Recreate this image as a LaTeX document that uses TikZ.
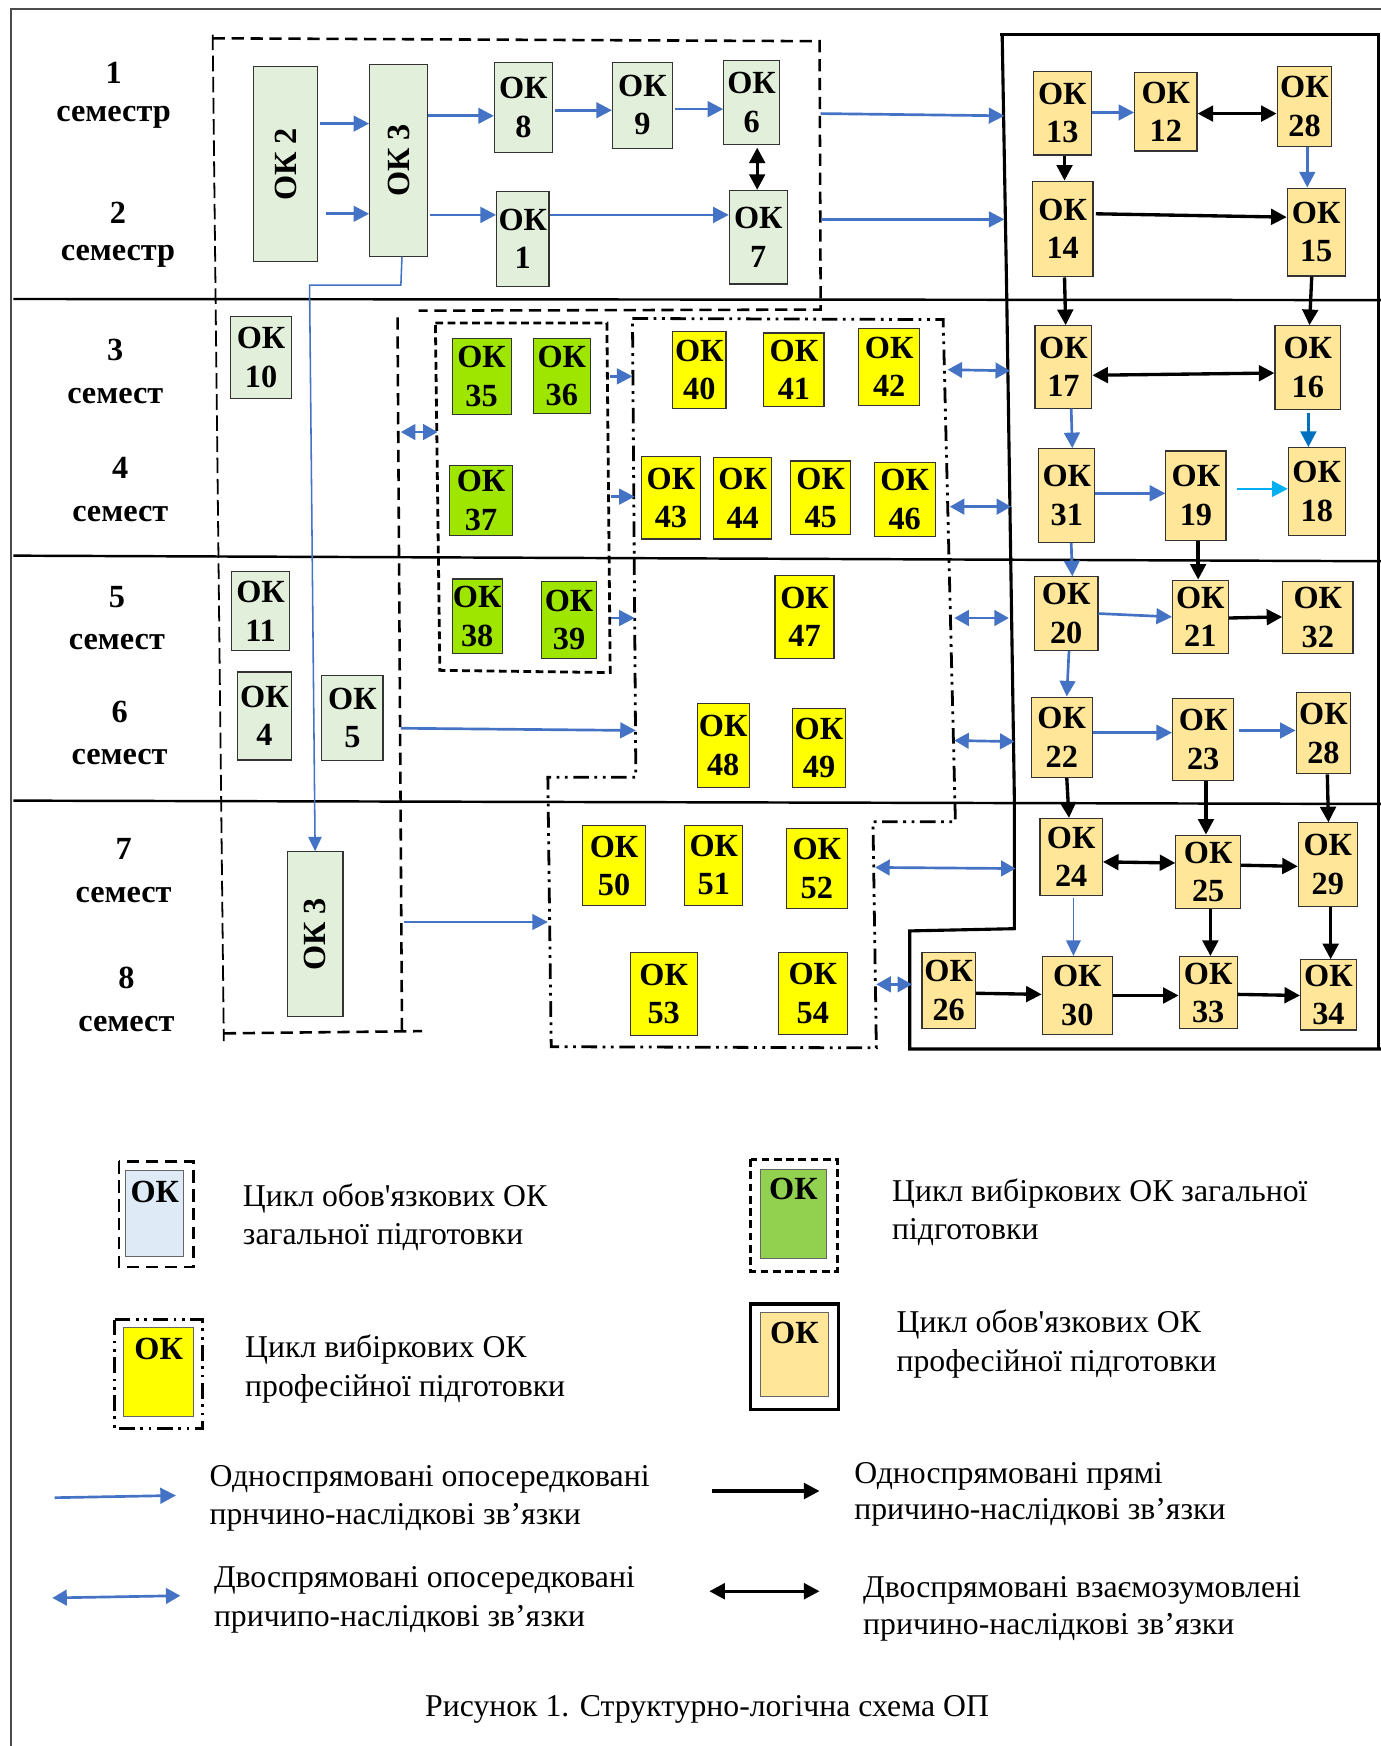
\documentclass[tikz,border=0pt]{standalone}
\usepackage{graphicx}
\usepackage{fontspec}
\setmainfont{Liberation Serif}[Ligatures=TeXOff]
\usetikzlibrary{arrows.meta,calc}
\definecolor{lgr}{HTML}{E2EFDA}
\definecolor{vgr}{HTML}{9EE600}
\definecolor{ylw}{HTML}{FFFF00}
\definecolor{org}{HTML}{FFE699}
\definecolor{ablue}{HTML}{4472C4}
\definecolor{dblue}{HTML}{0070C0}
\definecolor{cyanb}{HTML}{00B0F0}
\definecolor{lblue}{HTML}{DEEBF7}
\definecolor{lgreen}{HTML}{92D050}
\tikzset{
  okbase/.style={draw=black!80, line width=1pt, inner sep=0pt, align=center,
    font=\fontsize{29}{34.5}\selectfont\bfseries},
  okg/.style={okbase, fill=lgr},
  okv/.style={okbase, fill=vgr},
  oky/.style={okbase, fill=ylw},
  oko/.style={okbase, fill=org},
  oklab/.style={inner sep=0pt, font=\fontsize{29}{34}\selectfont\bfseries},
  semlab/.style={inner sep=0pt, anchor=base, font=\fontsize{29}{34}\selectfont\bfseries},
  legtxt/.style={inner sep=0pt, anchor=base west, font=\fontsize{28.5}{34}\selectfont},
  sepline/.style={line width=2.2pt, black},
  gdash/.style={line width=2.3pt, dash pattern=on 11pt off 6pt},
  gdashl/.style={line width=1.6pt, dash pattern=on 14pt off 5pt},
  vdash/.style={line width=2.5pt, dash pattern=on 7pt off 4pt},
  ydash/.style={line width=2.5pt, dash pattern=on 14pt off 5pt on 2.5pt off 5pt on 2.5pt off 5pt},
  pframe/.style={line width=2.8pt, black},
  barr/.style={draw=ablue, line width=2.4pt, -{Triangle[length=14pt,width=14pt]}},
  bdarr/.style={draw=ablue, line width=2.4pt, {Triangle[length=13pt,width=14pt]}-{Triangle[length=13pt,width=14pt]}},
  karr/.style={draw=black, line width=3pt, -{Triangle[length=14pt,width=14pt]}},
  kdarr/.style={draw=black, line width=3pt, {Triangle[length=14pt,width=14pt]}-{Triangle[length=14pt,width=14pt]}},
}
\begin{document}
\begin{tikzpicture}[x=1pt,y=-1pt]
\useasboundingbox (0,0) rectangle (1240,1568);
% page frame
\draw[gray!60!black, line width=2pt] (10,1568) -- (10,8) -- (1240,8);
% semester separators
\draw[sepline] (12,268.5) -- (1240,269.5);
\draw[sepline] (12,499) -- (1240,504);
\draw[sepline] (12,719) -- (1240,722);

% semester labels
\node[semlab] (s1a) at (102,75) {1};
\node[semlab] (s1b) at (102,109) {семестр};
\node[semlab] (s2a) at (106,200.5) {2};
\node[semlab] (s2b) at (106,233.6) {семестр};
\node[semlab] (s3a) at (103.5,323.3) {3};
\node[semlab] (s3b) at (103.5,362) {семест};
\node[semlab] (s4a) at (108,430) {4};
\node[semlab] (s4b) at (108,468.4) {семест};
\node[semlab] (s5a) at (105,546) {5};
\node[semlab] (s5b) at (105,583.6) {семест};
\node[semlab] (s6a) at (107.4,649) {6};
\node[semlab] (s6b) at (107.4,687) {семест};
\node[semlab] (s7a) at (111,771.5) {7};
\node[semlab] (s7b) at (111,810.5) {семест};
\node[semlab] (s8a) at (113.5,888) {8};
\node[semlab] (s8b) at (113.5,926.4) {семест};

% general compulsory dashed frame
\draw[gdashl] (191,31) -- (201,935);
\draw[gdash] (191,34.4) -- (736,37) -- (737,278) -- (376,279);
\draw[gdash] (357,285) -- (361,927);
\draw[gdash] (201,928) -- (379,926);
% general elective frame
\draw[vdash] (391,290) -- (545,290) -- (548,604) -- (395,602) -- cycle;
% professional elective frame
\draw[ydash] (568,286) -- (847,287) -- (858,738) -- (784,738) -- (787,941) -- (495,940) -- (492,698) -- (571,698) -- cycle;
% professional compulsory frame
\draw[pframe] (898,31) -- (1238,31) -- (1238,942);
\draw[pframe] (900,31) -- (904,260) -- (911,721) -- (911,834) -- (817,836) -- (817,942) -- (1240,942);

% light green boxes
\node[okg, minimum width=57pt, minimum height=175pt] (ok2) at (256.5,147.5) {\rotatebox{90}{ОК 2}};
\node[okg, minimum width=52pt, minimum height=172pt] (ok3) at (358,144) {\rotatebox{90}{ОК 3}};
\node[okg, minimum width=52pt, minimum height=81pt] (ok8) at (470,96.5) {ОК\\8};
\node[okg, minimum width=54pt, minimum height=77pt] (ok9) at (577,94.5) {ОК\\9};
\node[okg, minimum width=50pt, minimum height=76pt] (ok6) at (675,92) {ОК\\6};
\node[okg, minimum width=47pt, minimum height=85pt] (ok1) at (469.5,214.5) {ОК\\1};
\node[okg, minimum width=52pt, minimum height=84pt] (ok7) at (681,213) {ОК\\7};
\node[okg, minimum width=55pt, minimum height=73pt] (ok10) at (234.5,321) {ОК\\10};
\node[okg, minimum width=52pt, minimum height=71pt] (ok11) at (234,549) {ОК\\11};
\node[okg, minimum width=49pt, minimum height=79pt] (ok4) at (237.5,643) {ОК\\4};
\node[okg, minimum width=55pt, minimum height=76pt] (ok5) at (316.5,645) {ОК\\5};
\node[okg, minimum width=50pt, minimum height=148pt] (ok3b) at (283,839) {\rotatebox{90}{ОК 3}};

% bright green boxes
\node[okv, minimum width=53pt, minimum height=68pt] (ok35) at (432.5,338) {ОК\\35};
\node[okv, minimum width=51pt, minimum height=67pt] (ok36) at (504.5,337.5) {ОК\\36};
\node[okv, minimum width=56pt, minimum height=63pt] (ok37) at (432,449.5) {ОК\\37};
\node[okv, minimum width=45pt, minimum height=67pt] (ok38) at (428.5,553.5) {ОК\\38};
\node[okv, minimum width=50pt, minimum height=69pt] (ok39) at (511,556.5) {ОК\\39};

% yellow boxes
\node[oky, minimum width=48pt, minimum height=69pt] (ok40) at (628,332.5) {ОК\\40};
\node[oky, minimum width=54pt, minimum height=66pt] (ok41) at (713,332) {ОК\\41};
\node[oky, minimum width=55pt, minimum height=69pt] (ok42) at (798.5,329.5) {ОК\\42};
\node[oky, minimum width=53pt, minimum height=74pt] (ok43) at (602.5,447) {ОК\\43};
\node[oky, minimum width=52pt, minimum height=73pt] (ok44) at (667,447.5) {ОК\\44};
\node[oky, minimum width=54pt, minimum height=66pt] (ok45) at (737,447) {ОК\\45};
\node[oky, minimum width=55pt, minimum height=67pt] (ok46) at (812.5,448.5) {ОК\\46};
\node[oky, minimum width=53pt, minimum height=74pt] (ok47) at (722.5,554) {ОК\\47};
\node[oky, minimum width=47pt, minimum height=75pt] (ok48) at (649.5,669.5) {ОК\\48};
\node[oky, minimum width=47pt, minimum height=71pt] (ok49) at (735.5,671.5) {ОК\\49};
\node[oky, minimum width=57pt, minimum height=72pt] (ok50) at (551.5,777.5) {ОК\\50};
\node[oky, minimum width=52pt, minimum height=72pt] (ok51) at (641,777) {ОК\\51};
\node[oky, minimum width=55pt, minimum height=72pt] (ok52) at (733.5,780) {ОК\\52};
\node[oky, minimum width=60pt, minimum height=75pt] (ok53) at (596,892.5) {ОК\\53};
\node[oky, minimum width=62pt, minimum height=74pt] (ok54) at (730,892) {ОК\\54};

% orange boxes
\node[oko, minimum width=52pt, minimum height=75pt] (ok13) at (954,101.7) {ОК\\13};
\node[oko, minimum width=56pt, minimum height=70.6pt] (ok12) at (1047,100.3) {ОК\\12};
\node[oko, minimum width=49pt, minimum height=72pt] (ok28a) at (1171.5,95.8) {ОК\\28};
\node[oko, minimum width=54.5pt, minimum height=86pt] (ok14) at (954.3,205.7) {ОК\\14};
\node[oko, minimum width=52pt, minimum height=79pt] (ok15) at (1182,208.4) {ОК\\15};
\node[oko, minimum width=51pt, minimum height=74pt] (ok17) at (955,329.5) {ОК\\17};
\node[oko, minimum width=59pt, minimum height=75pt] (ok16) at (1174.5,330) {ОК\\16};
\node[oko, minimum width=50pt, minimum height=84pt] (ok31) at (958,445) {ОК\\31};
\node[oko, minimum width=54pt, minimum height=80pt] (ok19) at (1074,445) {ОК\\19};
\node[oko, minimum width=51pt, minimum height=79pt] (ok18) at (1182.5,441.5) {ОК\\18};
\node[oko, minimum width=57pt, minimum height=66pt] (ok20) at (957.5,551) {ОК\\20};
\node[oko, minimum width=50pt, minimum height=66pt] (ok21) at (1078,554) {ОК\\21};
\node[oko, minimum width=63pt, minimum height=65pt] (ok32) at (1183.5,554.5) {ОК\\32};
\node[oko, minimum width=55pt, minimum height=72pt] (ok22) at (953.5,662) {ОК\\22};
\node[oko, minimum width=55pt, minimum height=74pt] (ok23) at (1080.5,664) {ОК\\23};
\node[oko, minimum width=49pt, minimum height=73pt] (ok28b) at (1188.5,658.5) {ОК\\28};
\node[oko, minimum width=56pt, minimum height=69pt] (ok24) at (962,769.5) {ОК\\24};
\node[oko, minimum width=58pt, minimum height=66pt] (ok25) at (1085,783) {ОК\\25};
\node[oko, minimum width=53pt, minimum height=75pt] (ok29) at (1192.5,776.5) {ОК\\29};
\node[oko, minimum width=48pt, minimum height=69pt] (ok26) at (852,889.5) {ОК\\26};
\node[oko, minimum width=63pt, minimum height=70pt] (ok30) at (967.5,894) {ОК\\30};
\node[oko, minimum width=52pt, minimum height=65pt] (ok33) at (1085,891.5) {ОК\\33};
\node[oko, minimum width=50pt, minimum height=63pt] (ok34) at (1193,893.5) {ОК\\34};

% frame reference points
\coordinate (gR1) at (737,102);
\coordinate (pL1) at (902,104);
\coordinate (gR2) at (737,197);
\coordinate (pL2) at (902,197);
\coordinate (gIn) at (360,388);
\coordinate (vL) at (393,388);
\coordinate (vR1) at (548,338);
\coordinate (yL1) at (568,338);
\coordinate (vR2) at (549,446);
\coordinate (yL2) at (570,446);
\coordinate (vR3) at (549,555);
\coordinate (yL3) at (570,555);
\coordinate (gIn2) at (360,654);
\coordinate (yL4) at (571,656);
\coordinate (gIn3) at (363,828);
\coordinate (yL5) at (492,828);
\coordinate (yR1) at (851,332);
\coordinate (pL3) at (907,333);
\coordinate (yR2) at (853,455);
\coordinate (pL4) at (908,455);
\coordinate (yR3) at (857,555);
\coordinate (pL5) at (906,555);
\coordinate (yR4) at (857,665);
\coordinate (pL6) at (911,666);
\coordinate (yR5) at (786,779);
\coordinate (pL7) at (912,780);
\coordinate (yR6) at (787,884);
\coordinate (pL8) at (819,884);
\coordinate (cyS) at (1111,439);

% arrows, first year
\draw[barr] ($(ok2.east |- 0,111)+(2,0)$) -- (ok3.west |- 0,111);
\draw[barr] ($(ok2.east |- 0,192)+(7,0)$) -- (ok3.west |- 0,192);
\draw[barr] (ok3.east |- 0,104) -- (ok8.west |- 0,104);
\draw[barr] ($(ok8.east |- 0,99)+(2,0)$) -- (ok9.west |- 0,99);
\draw[barr] ($(ok9.east |- 0,98)+(2,0)$) -- (ok6.west |- 0,98);
\draw[barr] ($(ok3.east |- 0,193)+(2,0)$) -- (ok1.west |- 0,193);
\draw[barr] (ok1.east |- 0,193) -- (ok7.west |- 0,193);
\draw[kdarr] ($(ok7.north |- ok6.south)+(-1,2)$) -- ($(ok7.north)+(-1,0)$);
\draw[barr] (gR1) -- (pL1);
\draw[barr] (gR2) -- (pL2);
\draw[ablue, line width=1.4pt, -{Triangle[length=13pt,width=12pt]}] ($(ok3.south)+(3,0)$) -- (360,256) -- (278,256) -- (ok3b.north);

% arrows, general to elective
\draw[bdarr] (gIn) -- (vL);
\draw[barr] (vR1) -- (yL1);
\draw[barr] (vR2) -- (yL2);
\draw[barr] (vR3) -- (yL3);
\draw[barr] (gIn2) -- (yL4);
\draw[barr] (gIn3) -- (yL5);
\draw[bdarr] (yR1) -- (pL3);
\draw[bdarr] (yR2) -- (pL4);
\draw[bdarr] (yR3) -- (pL5);
\draw[bdarr] (yR4) -- (pL6);
\draw[bdarr] (yR5) -- (pL7);
\draw[bdarr] (yR6) -- (pL8);

% arrows inside professional frame
\draw[karr] (ok13.south -| 956,0) -- (ok14.north -| 956,0);
\draw[barr] (ok13.east |- 0,101) -- (ok12.west |- 0,101);
\draw[kdarr] (ok12.east |- 0,102) -- (ok28a.west |- 0,102);
\draw[barr] (ok28a.south -| 1174,0) -- (ok15.north -| 1174,0);
\draw[karr] ($(ok14.east |- 0,192)+(2,0)$) -- (ok15.west |- 0,195);
\draw[karr] (ok14.south -| 956,0) -- (ok17.north -| 957,0);
\draw[karr] (ok15.south -| 1178,0) -- (ok16.north -| 1176,0);
\draw[kdarr] (ok17.east |- 0,337) -- (ok16.west |- 0,335);
\draw[barr] (ok17.south -| 962,0) -- (ok31.north -| 963,0);
\draw[draw=dblue, line width=2.4pt, -{Triangle[length=14pt,width=14pt]}] ($(ok16.south -| 1175,0)+(0,3)$) -- (ok18.north -| 1175,0);
\draw[draw=cyanb, line width=2.4pt, -{Triangle[length=14pt,width=14pt]}] (cyS) -- (ok18.west |- 0,439);
\draw[barr] (ok31.east |- 0,443) -- (ok19.west |- 0,443);
\draw[barr] (ok31.south -| 962,0) -- (ok20.north -| 963,0);
\draw[karr] (ok19.south -| 1076,0) -- (ok21.north -| 1076,0);
\draw[barr] (ok20.east |- 0,551) -- (ok21.west |- 0,554);
\draw[karr] (ok21.east |- 0,555) -- (ok32.west |- 0,554);
\draw[barr] (ok20.south -| 960,0) -- (ok22.north -| 958,0);
\draw[barr] (ok22.east |- 0,658) -- (ok23.west |- 0,658);
\draw[barr] ($(ok23.east |- 0,656)+(4,0)$) -- (ok28b.west |- 0,656);
\draw[karr] (ok22.south -| 958,0) -- (ok24.north -| 960,0);
\draw[karr] (ok23.south -| 1083,0) -- (ok25.north -| 1083,0);
\draw[karr] (ok28b.south -| 1192,0) -- (ok29.north -| 1193,0);
\draw[kdarr] (ok24.east |- 0,774) -- (ok25.west |- 0,775);
\draw[karr] (ok25.east |- 0,777) -- (ok29.west |- 0,778);
\draw[ablue, line width=1.6pt, -{Triangle[length=14pt,width=13pt]}] ($(ok24.south -| 964,0)+(0,2)$) -- (ok30.north -| 964,0);
\draw[karr] (ok25.south -| 1087,0) -- (ok33.north -| 1087,0);
\draw[karr] (ok29.south -| 1195,0) -- (ok34.north -| 1195,0);
\draw[karr] (ok26.east |- 0,892) -- (ok30.west |- 0,893);
\draw[karr] (ok30.east |- 0,894) -- (ok33.west |- 0,894);
\draw[karr] (ok33.east |- 0,893) -- (ok34.west |- 0,894);

% legend boxes
\draw[gdash] (107,1043) rectangle (174,1138);
\node[draw=black!60, fill=lblue, line width=1pt, minimum width=52pt, minimum height=77pt, inner sep=0pt] (lg1) at (139,1089.5) {};
\node[oklab] (lg1t) at (139,1070) {ОК};
\draw[vdash] (674,1041) rectangle (752,1142);
\node[draw=black!60, fill=lgreen, line width=1pt, minimum width=59pt, minimum height=80pt, inner sep=0pt] (lg2) at (712.5,1090) {};
\node[oklab] (lg2t) at (712.5,1068) {ОК};
\draw[ydash] (103,1185) rectangle (182,1283);
\node[draw=black!60, fill=ylw, line width=1pt, minimum width=63pt, minimum height=80pt, inner sep=0pt] (lg3) at (142.5,1232) {};
\node[oklab] (lg3t) at (142.5,1211) {ОК};
\draw[line width=3pt] (674,1171) rectangle (753,1266);
\node[draw=black!60, fill=org, line width=1pt, minimum width=61pt, minimum height=75pt, inner sep=0pt] (lg4) at (713.5,1216.5) {};
\node[oklab] (lg4t) at (713.5,1197) {ОК};

\node[legtxt] (t1a) at (218,1083.5) {Цикл обов'язкових ОК};
\node[legtxt] (t1b) at (218,1118) {загальної підготовки};
\node[legtxt] (t2a) at (801,1079) {Цикл вибіркових ОК загальної};
\node[legtxt] (t2b) at (801,1113.5) {підготовки};
\node[legtxt] (t3a) at (220,1219.5) {Цикл вибіркових ОК};
\node[legtxt] (t3b) at (220,1254) {професійної підготовки};
\node[legtxt] (t4a) at (805,1197) {Цикл обов'язкових ОК};
\node[legtxt] (t4b) at (805,1231.6) {професійної підготовки};

% legend arrows
\coordinate (la1) at (49,1345);
\coordinate (lb1) at (158,1343);
\coordinate (la2) at (639,1339);
\coordinate (lb2) at (736,1339);
\coordinate (la3) at (47,1435);
\coordinate (lb3) at (162,1433);
\coordinate (la4) at (637,1429);
\coordinate (lb4) at (736,1429);
\draw[barr] (la1) -- (lb1);
\draw[karr] (la2) -- (lb2);
\draw[bdarr] (la3) -- (lb3);
\draw[kdarr] (la4) -- (lb4);

\node[legtxt] (t5a) at (188,1335) {Односпрямовані опосередковані};
\node[legtxt] (t5b) at (188,1369.5) {прнчино-наслідкові зв’язки};
\node[legtxt] (t6a) at (767,1332) {Односпрямовані прямі};
\node[legtxt] (t6b) at (767,1365) {причино-наслідкові зв’язки};
\node[legtxt] (t7a) at (192,1426) {Двоспрямовані опосередковані};
\node[legtxt] (t7b) at (192,1460.6) {причипо-наслідкові зв’язки};
\node[legtxt] (t8a) at (775,1435) {Двоспрямовані взаємозумовлені};
\node[legtxt] (t8b) at (775,1468) {причино-наслідкові зв’язки};

\node[inner sep=0pt, anchor=base, font=\fontsize{28.5}{34}\selectfont] (cap) at (635,1541.5) {Рисунок 1. Структурно-логічна схема ОП};
\end{tikzpicture}
\end{document}
